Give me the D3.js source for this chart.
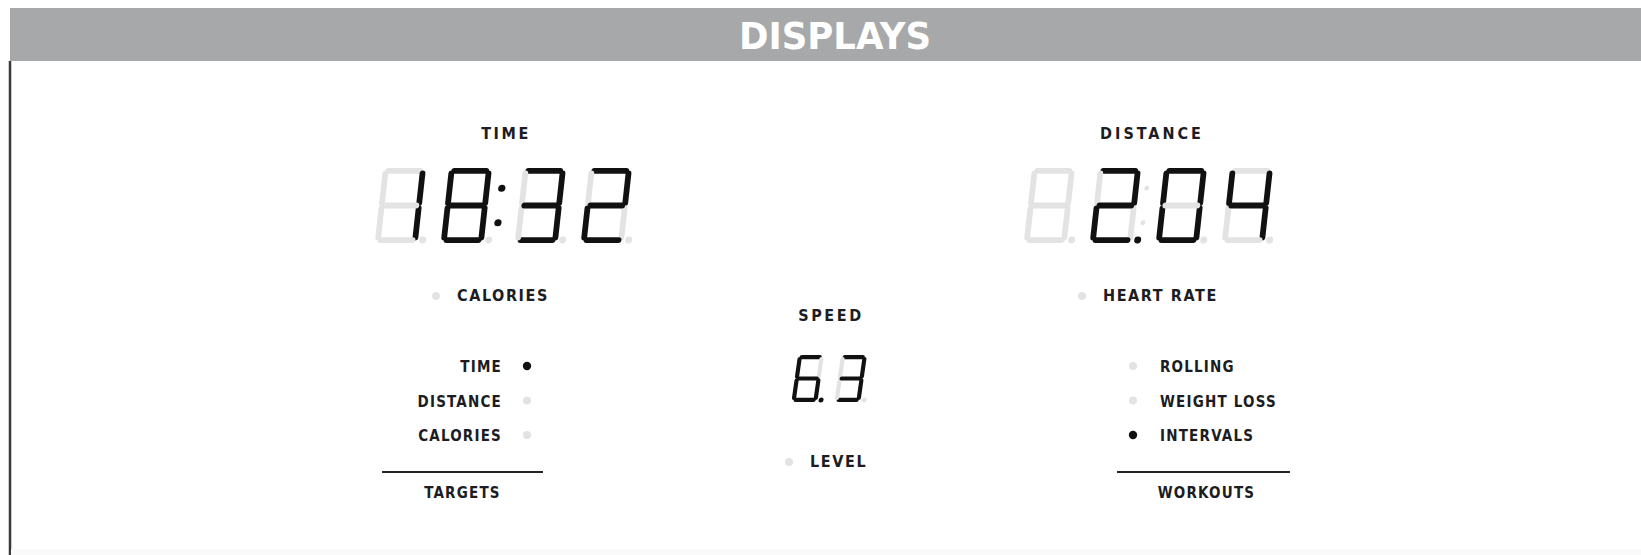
<!DOCTYPE html>
<html>
<head>
<meta charset="utf-8">
<script src="https://cdn.jsdelivr.net/npm/d3@7"></script>
<style>
  body { margin: 0; background: #fff; }
  text { font-family: "Liberation Sans Narrow", "DejaVu Sans Condensed", "Arial Narrow", sans-serif; font-weight: bold; }
</style>
</head>
<body>
<svg id="panel" width="1641" height="555"></svg>
<script>
// ---- data ----
const title = "DISPLAYS";
const readoutNames = ["TIME", "DISTANCE", "SPEED"];
const readoutValues = ["18:32", "2.04", "6.3"];
const readoutCells = [4, 4, 2];
const sideLabels = ["CALORIES", "HEART RATE", "LEVEL"];
const targetNames = ["TIME", "DISTANCE", "CALORIES"];
const targetActive = [true, false, false];
const workoutNames = ["ROLLING", "WEIGHT LOSS", "INTERVALS"];
const workoutActive = [false, false, true];
const groupTitles = ["TARGETS", "WORKOUTS"];

// which segments light for each digit (a b c d e f g)
const segmentMap = {
  "0": "abcdef", "1": "bc", "2": "abdeg", "3": "abcdg", "4": "bcfg",
  "5": "acdfg", "6": "acdefg", "7": "abc", "8": "abcdefg", "9": "abcdfg"
};

const lit = "#111", ghost = "#e3e3e3", ink = "#1c1c22";

const svg = d3.select("#panel");

// header band + frame
svg.append("rect").attr("x", 10).attr("y", 8).attr("width", 1631).attr("height", 53).attr("fill", "#a7a8aa");
svg.append("text").attr("x", 835).attr("y", 49).attr("text-anchor", "middle")
  .attr("fill", "#fff").attr("font-size", 38)
  .attr("textLength", 192).attr("lengthAdjust", "spacingAndGlyphs")
  .text(title);
svg.append("line").attr("x1", 10).attr("x2", 10).attr("y1", 61).attr("y2", 555)
  .attr("stroke", "#3a3a3a").attr("stroke-width", 2.5);
svg.append("rect").attr("x", 11).attr("y", 549).attr("width", 1630).attr("height", 6).attr("fill", "#fafafa");

// turn a readout string into cells {digit, dp, colon}, right aligned
function parseReadout(str, n) {
  let cells = [];
  for (const ch of str) {
    if (ch === ".") cells[cells.length - 1].dp = true;
    else if (ch === ":") cells[cells.length - 1].colon = true;
    else cells.push({digit: ch, dp: false, colon: false});
  }
  while (cells.length < n) cells.unshift({digit: null, dp: false, colon: false});
  return cells;
}

// layout for each readout
const layouts = [
  {left: 383, top: 168, w: 43, h: 75, t: 5.8, pitch: 66, colonGap: 8, slant: 6.3, labelX: 506, labelY: 139, colonAt: 1},
  {left: 1032, top: 168, w: 43, h: 75, t: 5.8, pitch: 66, colonGap: 0, slant: 6.3, labelX: 1152, labelY: 139, colonAt: 1},
  {left: 798, top: 355, w: 26, h: 47, t: 4.2, pitch: 43, colonGap: 0, slant: 8, labelX: 831, labelY: 321, colonAt: -1}
];

function segLines(w, h, t) {
  const g = t * 0.45, m = h / 2, hx = t / 2;
  return {
    a: [[hx + g, hx], [w - hx - g, hx]],
    g: [[hx + g, m], [w - hx - g, m]],
    d: [[hx + g, h - hx], [w - hx - g, h - hx]],
    f: [[hx, hx + g], [hx, m - g]],
    e: [[hx, m + g], [hx, h - hx - g]],
    b: [[w - hx, hx + g], [w - hx, m - g]],
    c: [[w - hx, m + g], [w - hx, h - hx - g]]
  };
}

readoutValues.forEach((val, k) => {
  const L = layouts[k];
  const cells = parseReadout(val, readoutCells[k]);
  const xCell = d3.scaleLinear().domain([0, cells.length - 1])
    .range([L.left, L.left + L.pitch * (cells.length - 1)]);
  const segs = segLines(L.w, L.h, L.t);

  svg.append("text").attr("x", L.labelX).attr("y", L.labelY).attr("text-anchor", "middle")
    .attr("font-size", 16).attr("letter-spacing", k === 1 ? 3 : 2.6).attr("fill", ink)
    .text(readoutNames[k]);

  cells.forEach((c, i) => {
    const x0 = xCell(i) + (L.colonAt >= 0 && i > L.colonAt ? L.colonGap : 0);
    const cg = svg.append("g")
      .attr("transform", `translate(${x0},${L.top}) skewX(${-L.slant})`);
    const on = c.digit ? segmentMap[c.digit] : "";
    // ghost first, lit on top
    "abcdefg".split("").forEach(s => {
      cg.append("line")
        .attr("x1", segs[s][0][0]).attr("y1", segs[s][0][1])
        .attr("x2", segs[s][1][0]).attr("y2", segs[s][1][1])
        .attr("stroke", on.includes(s) ? lit : ghost)
        .attr("stroke-width", L.t).attr("stroke-linecap", "round");
    });
    // decimal point
    cg.append("circle").attr("cx", L.w + L.t * 0.8).attr("cy", L.h - L.t / 2)
      .attr("r", L.t * 0.6).attr("fill", c.dp ? lit : ghost);
    // colon after this cell
    if (i === L.colonAt) {
      [L.h * 0.27, L.h * 0.73].forEach(cy => {
        cg.append("circle").attr("cx", L.w + 8 + L.colonGap / 2).attr("cy", cy)
          .attr("r", c.colon ? 3.6 : 2.4).attr("fill", c.colon ? lit : ghost);
      });
    }
  });
});

// single indicator labels
const sidePos = [[457, 301], [1103, 301], [810, 467]];
sideLabels.forEach((s, i) => {
  svg.append("circle").attr("cx", sidePos[i][0] - 21).attr("cy", sidePos[i][1] - 5)
    .attr("r", 4).attr("fill", ghost);
  svg.append("text").attr("x", sidePos[i][0]).attr("y", sidePos[i][1])
    .attr("font-size", 16).attr("letter-spacing", 1.6).attr("fill", ink).text(s);
});

// option lists
const yRow = d3.scalePoint().domain(d3.range(3)).range([366, 435]);

const targets = svg.append("g");
targetNames.forEach((s, i) => {
  targets.append("text").attr("x", 502).attr("y", yRow(i) + 6).attr("text-anchor", "end")
    .attr("font-size", 15).attr("letter-spacing", 1.2).attr("fill", ink).text(s);
  targets.append("circle").attr("cx", 527).attr("cy", yRow(i))
    .attr("r", targetActive[i] ? 4.2 : 4).attr("fill", targetActive[i] ? lit : ghost);
});

const workouts = svg.append("g");
workoutNames.forEach((s, i) => {
  workouts.append("text").attr("x", 1160).attr("y", yRow(i) + 6)
    .attr("font-size", 15).attr("letter-spacing", 1.2).attr("fill", ink).text(s);
  workouts.append("circle").attr("cx", 1133).attr("cy", yRow(i))
    .attr("r", workoutActive[i] ? 4.2 : 4).attr("fill", workoutActive[i] ? lit : ghost);
});

// group rules and titles
const groupSpans = [[382, 543], [1117, 1290]];
groupTitles.forEach((s, i) => {
  svg.append("line").attr("x1", groupSpans[i][0]).attr("x2", groupSpans[i][1])
    .attr("y1", 472).attr("y2", 472).attr("stroke", "#222").attr("stroke-width", 2);
  svg.append("text").attr("x", (groupSpans[i][0] + groupSpans[i][1]) / 2 + (i ? 3 : 0)).attr("y", 498)
    .attr("text-anchor", "middle").attr("font-size", 15).attr("letter-spacing", 1.2)
    .attr("fill", ink).text(s);
});
</script>
</body>
</html>
